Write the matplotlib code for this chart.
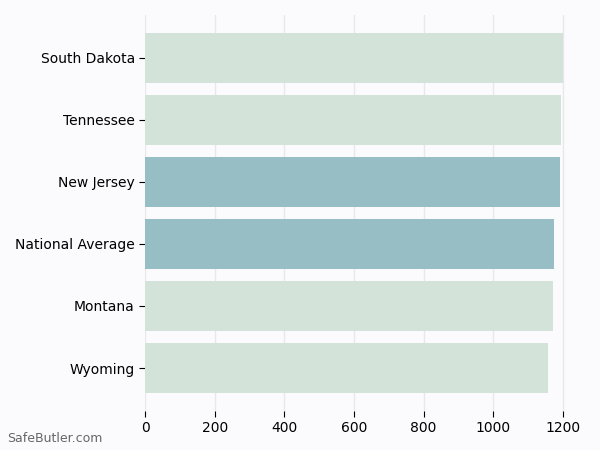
import matplotlib
matplotlib.use("Agg")
import matplotlib.pyplot as plt

categories = ["South Dakota", "Tennessee", "New Jersey", "National Average", "Montana", "Wyoming"]
values = [1201, 1195, 1193, 1176, 1173, 1157]
highlight = [False, False, True, True, False, False]

green = "#d4e3d9"
blue = "#97bec5"
bg = "#fbfbfe"

fig = plt.figure(figsize=(6, 4.5), dpi=100, facecolor=bg)
ax = fig.add_axes([0.242, 0.087, 0.725, 0.88], facecolor=bg)

cats = categories[::-1]
vals = values[::-1]
cols = [blue if h else green for h in highlight[::-1]]
ax.barh(cats, vals, height=0.8, color=cols, zorder=2)

ax.set_xticks([0, 200, 400, 600, 800, 1000, 1200])
ax.set_xlim(0, 1250)
ax.grid(axis="x", color="#e8e8e8", linewidth=1, zorder=0)
for s in ax.spines.values():
    s.set_visible(False)
ax.tick_params(axis="both", labelsize=10, color="black", length=4)

fig.text(0.012, 0.018, "SafeButler.com", fontsize=9, color="#666666")

fig.savefig("out.png", dpi=100, facecolor=bg)
